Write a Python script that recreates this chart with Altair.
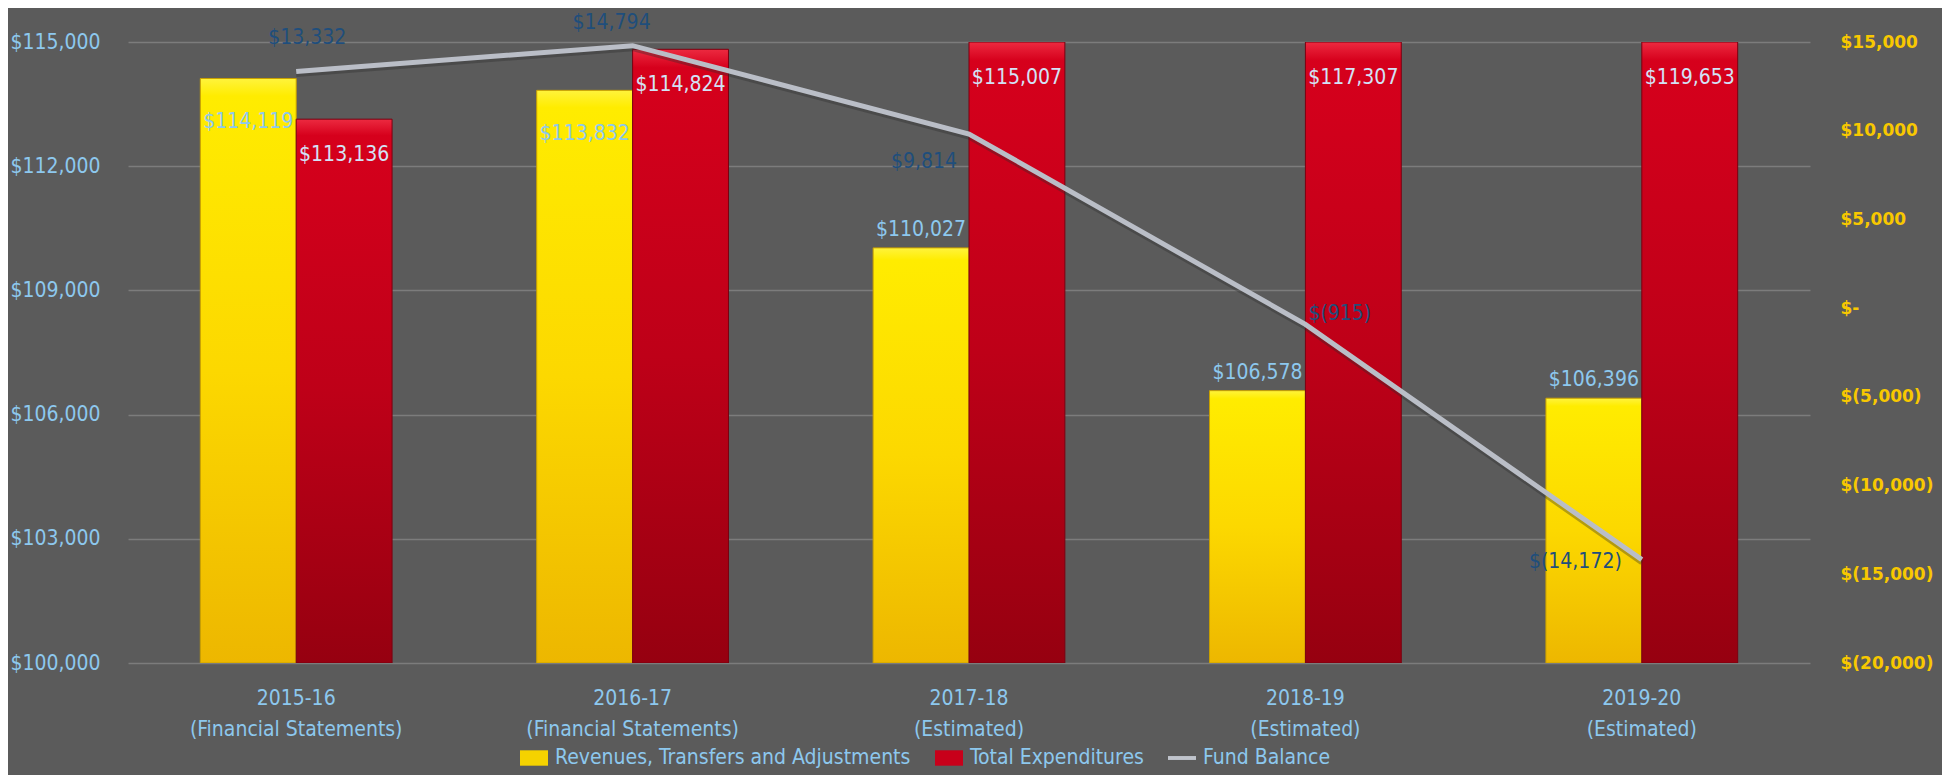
import altair as alt
import pandas as pd

# ---------------- data ----------------
years = ["2015-16", "2016-17", "2017-18", "2018-19", "2019-20"]
notes = ["(Financial Statements)", "(Financial Statements)", "(Estimated)", "(Estimated)", "(Estimated)"]
revenues = [114119, 113832, 110027, 106578, 106396]
expenditures = [113136, 114824, 115007, 117307, 119653]
fund_balance = [13332, 14794, 9814, -915, -14172]
series = ["Revenues, Transfers and Adjustments", "Total Expenditures", "Fund Balance"]
left_ticks = [100000, 103000, 106000, 109000, 112000, 115000]
right_ticks = [-20000, -15000, -10000, -5000, 0, 5000, 10000, 15000]

cats = [f"{y}|{n}" for y, n in zip(years, notes)]
bars_df = pd.DataFrame({
    "cat": cats * 2,
    "series": [series[0]] * len(cats) + [series[1]] * len(cats),
    "value": revenues + expenditures,
})
fund_df = pd.DataFrame({"cat": cats, "series": series[2], "value": fund_balance})

# ---------------- style ----------------
NARROW = "DejaVu Sans Condensed"
FS = 21
BLUE = "#8DC8EE"
LIGHT = "#D3E2F6"
DARKBLUE = "#1F4E7C"
GOLD = "#F8C800"
LEFT_MIN, LEFT_MAX = 100000, 115000
RIGHT_MIN, RIGHT_MAX = -20000, 15000

yellow_grad = {"gradient": "linear", "x1": 0, "y1": 0, "x2": 0, "y2": 1,
               "stops": [{"offset": 0, "color": "#FFF33C"}, {"offset": 0.03, "color": "#FFEC00"},
                         {"offset": 0.5, "color": "#FCD800"}, {"offset": 1, "color": "#EDB700"}]}
red_grad = {"gradient": "linear", "x1": 0, "y1": 0, "x2": 0, "y2": 1,
            "stops": [{"offset": 0, "color": "#EC2A40"}, {"offset": 0.03, "color": "#D6001C"},
                      {"offset": 0.5, "color": "#BE0018"}, {"offset": 1, "color": "#960010"}]}

x_enc = alt.X(
    "cat:N", sort=cats, title=None,
    scale=alt.Scale(paddingInner=0.43, paddingOuter=0.215),
    axis=alt.Axis(labelExpr="split(datum.label, '|')", labelAngle=0, ticks=False, domain=False,
                  labelPadding=24, labelFont=NARROW, labelFontSize=FS, labelColor=BLUE,
                  labelLineHeight=31, labelLimit=400, grid=False),
)
xoff = alt.XOffset("series:N", scale=alt.Scale(domain=series[:2], paddingInner=0, paddingOuter=0))

left_scale = alt.Scale(domain=[LEFT_MIN, LEFT_MAX], nice=False, zero=False)
y_axis_left = alt.Axis(values=left_ticks, format="$,.0f", ticks=False, domain=False, labelPadding=28,
                       labelFont=NARROW, labelFontSize=FS, labelColor=BLUE, grid=True,
                       gridColor="#8a8a8a", gridWidth=1.5, gridOpacity=0.7)

base_bars = alt.Chart(bars_df).transform_calculate(ytop=f"min(datum.value, {LEFT_MAX})")

rev_bars = base_bars.transform_filter(alt.datum.series == series[0]).mark_bar(
    color=yellow_grad, clip=True, stroke="#C9A000", strokeWidth=1
).encode(x=x_enc, xOffset=xoff, y=alt.Y("ytop:Q", title=None, scale=left_scale, axis=y_axis_left),
         y2=alt.datum(LEFT_MIN))

exp_bars = base_bars.transform_filter(alt.datum.series == series[1]).mark_bar(
    color=red_grad, clip=True, stroke="#7A0010", strokeWidth=1
).encode(x=x_enc, xOffset=xoff, y=alt.Y("ytop:Q", title=None, scale=left_scale, axis=y_axis_left),
         y2=alt.datum(LEFT_MIN))

money = "'$' + format(datum.value, ',')"

rev_text_base = base_bars.transform_filter(alt.datum.series == series[0]).transform_calculate(label=money)
rev_in = rev_text_base.transform_filter(alt.datum.value > 113000).mark_text(
    font=NARROW, fontSize=FS, color=BLUE, baseline="middle", dy=44
).encode(x=x_enc, xOffset=xoff, y=alt.Y("ytop:Q", title=None, scale=left_scale), text="label:N")
rev_out = rev_text_base.transform_filter(alt.datum.value <= 113000).mark_text(
    font=NARROW, fontSize=FS, color=BLUE, baseline="middle", dy=-18
).encode(x=x_enc, xOffset=xoff, y=alt.Y("ytop:Q", title=None, scale=left_scale), text="label:N")

exp_text = base_bars.transform_filter(alt.datum.series == series[1]).transform_calculate(
    label=money
).mark_text(font=NARROW, fontSize=FS, color=LIGHT, baseline="middle", dy=36).encode(
    x=x_enc, xOffset=xoff, y=alt.Y("ytop:Q", title=None, scale=left_scale), text="label:N")

left_group = alt.layer(rev_bars, exp_bars, rev_in, rev_out, exp_text)

acct_expr = ("datum.value > 0 ? '$' + format(datum.value, ',') : "
             "(datum.value < 0 ? '$(' + format(-datum.value, ',') + ')' : '$-')")

y_right = alt.Y(
    "value:Q", title=None,
    scale=alt.Scale(domain=[RIGHT_MIN, RIGHT_MAX], nice=False, zero=False),
    axis=alt.Axis(orient="right", values=right_ticks, labelExpr=acct_expr, ticks=False, domain=False,
                  grid=False, labelPadding=30, labelFont="DejaVu Sans", labelFontWeight="bold",
                  labelFontSize=17, labelColor=GOLD),
)

fund_base = alt.Chart(fund_df)
shadow = fund_base.mark_line(color="#2a2a2a", strokeWidth=5, opacity=0.35, yOffset=3).encode(
    x=x_enc, y=y_right)
line = fund_base.mark_line(color="#BABEC7", strokeWidth=5).encode(x=x_enc, y=y_right)

# label placement (style) for each fund-balance point
placement = [
    dict(align="center", dx=11, dy=-34),
    dict(align="center", dx=-21, dy=-23),
    dict(align="right", dx=-12, dy=28),
    dict(align="left", dx=3, dy=-10),
    dict(align="right", dx=-20, dy=2),
]
fund_texts = []
for c, p in zip(cats, placement):
    fund_texts.append(
        fund_base.transform_filter(alt.datum.cat == c).transform_calculate(label=acct_expr).mark_text(
            font=NARROW, fontSize=FS, color=DARKBLUE, baseline="middle", **p
        ).encode(x=x_enc, y=y_right, text="label:N")
    )

bar_path = "M-1,-0.55H1V0.55H-1Z"
line_path = "M-1,-0.14H1V0.14H-1Z"
leg = alt.Legend(title=None, orient="none", legendX=392, legendY=702, direction="horizontal",
                 labelFont=NARROW, labelFontSize=FS, labelColor=BLUE, symbolSize=784,
                 symbolStrokeWidth=0, columnPadding=24, labelOffset=7, padding=0, labelLimit=500)
legend_layer = fund_base.transform_filter("false").mark_point(filled=True, opacity=1, size=784).encode(
    color=alt.Color("series:N", scale=alt.Scale(domain=series, range=["#F5D200", "#C8001A", "#C0C4CC"]),
                    legend=leg),
    shape=alt.Shape("series:N", scale=alt.Scale(domain=series, range=[bar_path, bar_path, line_path]),
                    legend=leg),
)

right_group = alt.layer(shadow, line, *fund_texts, legend_layer)

chart = alt.layer(left_group, right_group).resolve_scale(y="independent").properties(
    width=1682, height=621,
    autosize=alt.AutoSizeParams(type="none"),
    padding={"left": 120, "top": 34, "right": 132, "bottom": 112},
    background="#5b5b5b",
).configure_view(
    strokeWidth=0,
    fill="#6a6a6a",
)

chart.save("out.html", embed_options={"renderer": "svg", "actions": False})
